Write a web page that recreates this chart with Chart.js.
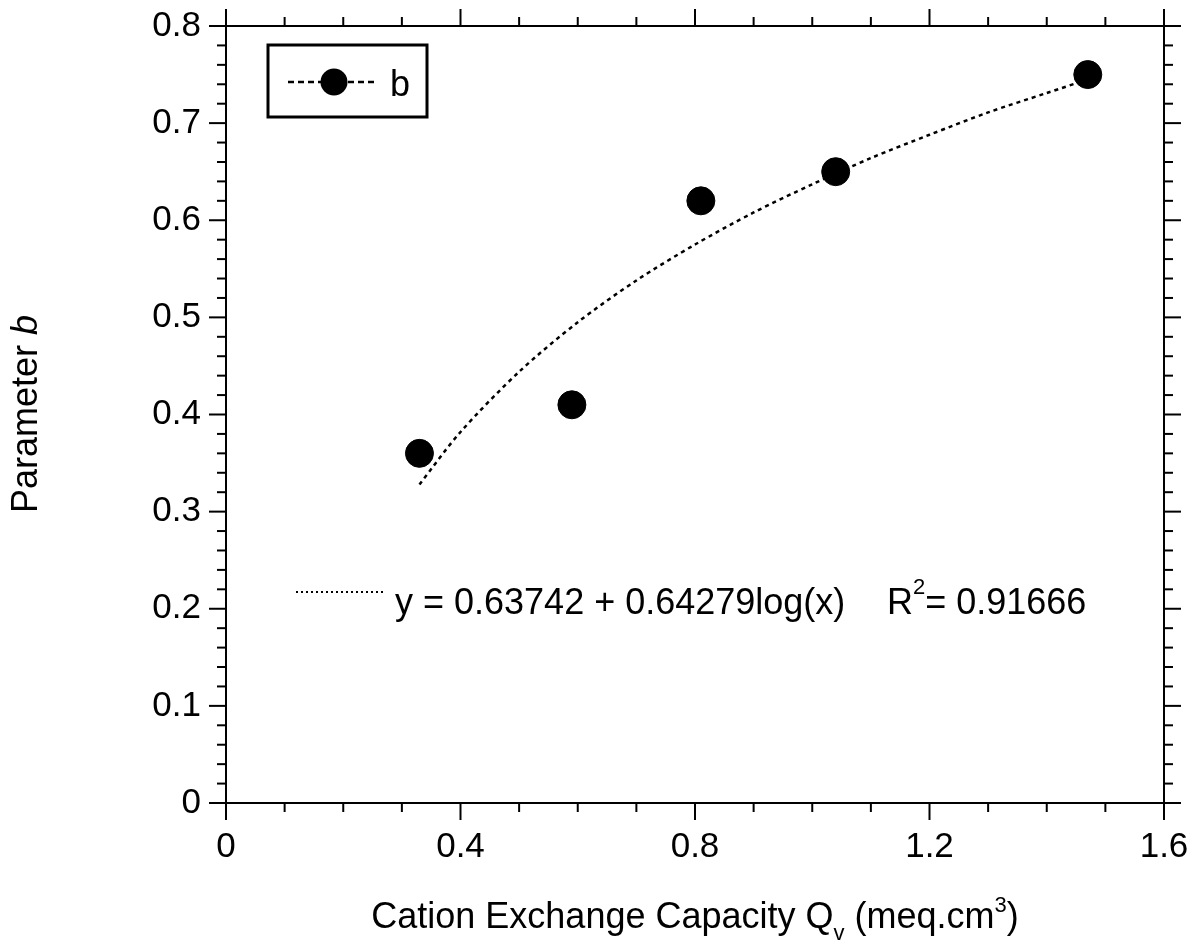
<!DOCTYPE html>
<html>
<head>
<meta charset="utf-8">
<script src="https://cdn.jsdelivr.net/npm/chart.js@4/dist/chart.umd.min.js"></script>
<style>
  body { margin: 0; background: #fff; }
  #wrap { width: 1199px; height: 950px; position: relative; }
</style>
</head>
<body>
<div id="wrap"><canvas id="scatter_chart"></canvas></div>
<script>
// measured points
const cecValues = [0.33, 0.59, 0.81, 1.04, 1.47];
const bValues = [0.36, 0.41, 0.62, 0.65, 0.75];

// dotted fit curve
const fitX = [0.33, 0.4, 0.5, 0.6, 0.7, 0.8, 0.9, 1.0, 1.1, 1.2, 1.3, 1.4, 1.47];
const fitY = [0.328, 0.382, 0.444, 0.495, 0.538, 0.575, 0.608, 0.637, 0.664, 0.688, 0.711, 0.731, 0.745];

const xTickLabels = ['0', '0.4', '0.8', '1.2', '1.6'];
const yTickLabels = ['0', '0.1', '0.2', '0.3', '0.4', '0.5', '0.6', '0.7', '0.8'];

const seriesLabel = 'b';
const fitText = 'y = 0.63742 + 0.64279log(x)';
const fitR2 = '0.91666';

const FONT = '"Liberation Sans", Arial, sans-serif';

function line(ctx, x1, y1, x2, y2) {
    ctx.beginPath();
    ctx.moveTo(x1, y1);
    ctx.lineTo(x2, y2);
    ctx.stroke();
}

// box + ticks on all four sides, legend, equation and titles
const framePlugin = {
    id: 'frame',
    beforeDatasetsDraw(chart) {
        const { ctx, chartArea: a, scales: { x, y } } = chart;
        ctx.save();
        ctx.strokeStyle = '#000';
        ctx.lineWidth = 2;
        ctx.strokeRect(a.left, a.top, a.right - a.left, a.bottom - a.top);
        for (let i = 0; i <= 16; i++) {
            const px = x.getPixelForValue(i * 0.1);
            const len = i % 4 === 0 ? 17 : 9;
            line(ctx, px, a.bottom, px, a.bottom + len);
            line(ctx, px, a.top, px, a.top - len);
        }
        for (let i = 0; i <= 40; i++) {
            const py = y.getPixelForValue(i * 0.02);
            const len = i % 5 === 0 ? 17 : 9;
            line(ctx, a.left - len, py, a.left, py);
            line(ctx, a.right, py, a.right + len, py);
        }
        ctx.restore();
    },
    afterDraw(chart) {
        const { ctx } = chart;
        ctx.save();
        ctx.fillStyle = '#000';
        ctx.strokeStyle = '#000';

        // legend box
        ctx.lineWidth = 3;
        ctx.strokeRect(268, 45, 159, 72);
        ctx.lineWidth = 2.5;
        ctx.setLineDash([6, 4]);
        line(ctx, 288, 82, 378, 82);
        ctx.setLineDash([]);
        ctx.beginPath();
        ctx.arc(334, 82, 13.5, 0, Math.PI * 2);
        ctx.fill();
        ctx.font = '36px ' + FONT;
        ctx.textBaseline = 'alphabetic';
        ctx.fillText(seriesLabel, 390, 96);

        // fit equation
        ctx.lineWidth = 2;
        ctx.setLineDash([2, 3]);
        line(ctx, 296, 592, 385, 592);
        ctx.setLineDash([]);
        ctx.font = '36px ' + FONT;
        ctx.fillText(fitText, 395, 614);
        let ex = 887;
        ctx.fillText('R', ex, 614);
        ex += ctx.measureText('R').width;
        ctx.font = '22px ' + FONT;
        ctx.fillText('2', ex, 594);
        ex += ctx.measureText('2').width;
        ctx.font = '36px ' + FONT;
        ctx.fillText('= ' + fitR2, ex, 614);

        // x title with sub/superscript
        const parts = [
            ['Cation Exchange Capacity Q', 36, 0],
            ['v', 22, 12],
            [' (meq.cm', 36, 0],
            ['3', 22, -16],
            [')', 36, 0]
        ];
        let total = 0;
        parts.forEach(p => { ctx.font = p[1] + 'px ' + FONT; total += ctx.measureText(p[0]).width; });
        let tx = 695 - total / 2;
        parts.forEach(p => {
            ctx.font = p[1] + 'px ' + FONT;
            ctx.fillText(p[0], tx, 928 + p[2]);
            tx += ctx.measureText(p[0]).width;
        });

        // y title, rotated
        ctx.translate(37, 414);
        ctx.rotate(-Math.PI / 2);
        ctx.font = '36px ' + FONT;
        const t1 = 'Parameter ';
        const w1 = ctx.measureText(t1).width;
        ctx.font = 'italic 36px ' + FONT;
        const w2 = ctx.measureText('b').width;
        let yx = -(w1 + w2) / 2;
        ctx.font = '36px ' + FONT;
        ctx.fillText(t1, yx, 0);
        ctx.font = 'italic 36px ' + FONT;
        ctx.fillText('b', yx + w1, 0);
        ctx.restore();
    }
};

const ScatterData = {
    datasets: [{
        label: seriesLabel,
        data: cecValues.map((v, i) => ({ x: v, y: bValues[i] })),
        showLine: false,
        pointRadius: 14,
        pointHoverRadius: 14,
        backgroundColor: '#000',
        borderColor: '#000',
        order: 1
    }, {
        label: 'fit',
        data: fitX.map((v, i) => ({ x: v, y: fitY[i] })),
        showLine: true,
        pointRadius: 0,
        borderColor: '#000',
        borderWidth: 2.5,
        borderDash: [4, 4],
        tension: 0.3,
        fill: false,
        order: 2
    }]
};

const ScatterConfig = {
    type: 'scatter',
    data: ScatterData,
    plugins: [framePlugin],
    options: {
        responsive: true,
        maintainAspectRatio: false,
        animation: false,
        layout: { padding: { left: 0, right: 35, top: 26, bottom: 0 } },
        plugins: {
            legend: { display: false },
            tooltip: { enabled: false }
        },
        scales: {
            x: {
                type: 'linear',
                min: 0,
                max: 1.6,
                grid: { display: false, drawTicks: false },
                border: { display: false },
                afterFit: s => {
                    s.height = 147;
                    s.paddingLeft = 0;
                    s.paddingRight = 0;
                },
                ticks: {
                    stepSize: 0.4,
                    padding: 23,
                    maxRotation: 0,
                    autoSkip: false,
                    color: '#000',
                    font: { family: FONT, size: 35 },
                    callback: (v, i) => xTickLabels[i]
                }
            },
            y: {
                type: 'linear',
                min: 0,
                max: 0.8,
                grid: { display: false, drawTicks: false },
                border: { display: false },
                afterFit: s => {
                    s.width = 226;
                    s.paddingTop = 0;
                    s.paddingBottom = 0;
                },
                ticks: {
                    stepSize: 0.1,
                    padding: 25,
                    autoSkip: false,
                    color: '#000',
                    font: { family: FONT, size: 35 },
                    callback: (v, i) => yTickLabels[i]
                }
            }
        }
    }
};

// === display chart ===
var myScatterChart = new Chart(
    document.getElementById('scatter_chart'),
    ScatterConfig
);
</script>
</body>
</html>
